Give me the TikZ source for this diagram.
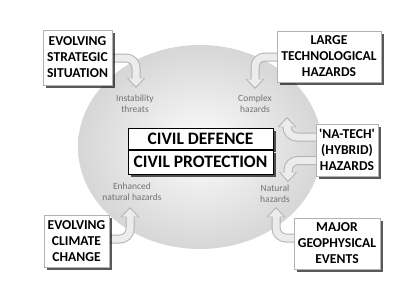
\documentclass[tikz,border=0pt]{standalone}
\usepackage{fontspec}
\setmainfont{Carlito}
\usetikzlibrary{positioning,shadows,arrows.meta,backgrounds}

\begin{document}
\begin{tikzpicture}[
    x=1pt, y=-1pt,
    % Boxes for the driving events
    eventbox/.style={draw=gray!60, fill=white, align=center, inner sep=1pt,
        font=\bfseries\fontsize{13.6}{16}\selectfont,
        drop shadow={shadow xshift=3pt, shadow yshift=-3pt, fill=black, opacity=.65}},
    % Central boxes
    corebox/.style={draw=black, line width=1pt, fill=white, minimum width=145pt,
        inner sep=1pt, font=\bfseries\fontsize{17.5}{20}\selectfont,
        drop shadow={shadow xshift=3pt, shadow yshift=-3pt, fill=black, opacity=.65}},
    % Small grey labels for the hazards
    hazard/.style={font=\fontsize{9.5}{11}\selectfont, text=black!55, align=center, inner sep=1pt},
    % Hollow bent arrows (outline, then fill)
    bendout/.style={line width=9pt, draw=gray!60, rounded corners=10pt,
        -{Triangle[length=10pt, width=18pt]}},
    bendin/.style={line width=7pt, draw=gray!15, rounded corners=10pt, shorten >=1.6pt,
        -{Triangle[length=8pt, width=15pt]}}
]

% Frame of the picture
\useasboundingbox (0,0) rectangle (400,300);

% Central boxes
\node[corebox, minimum height=21pt] (defence) at (200.5,138.5) {CIVIL DEFENCE};
\node[corebox, minimum height=24pt, below=0pt of defence] (protection) {CIVIL PROTECTION};

% Event boxes
\node[eventbox, minimum width=69pt, minimum height=55pt] (strategic) at (77.5,57.5) {EVOLVING\\STRATEGIC\\SITUATION};
\node[eventbox, minimum width=104pt, minimum height=51pt] (techno) at (329,56.5) {LARGE\\TECHNOLOGICAL\\HAZARDS};
\node[eventbox, minimum width=62pt, minimum height=52pt] (natech) at (347,150) {\textquotesingle NA-TECH\textquotesingle\\(HYBRID)\\HAZARDS};
\node[eventbox, minimum width=86pt, minimum height=51pt] (geo) at (337,243.5) {MAJOR\\GEOPHYSICAL\\EVENTS};
\node[eventbox, minimum width=65pt, minimum height=52pt] (climate) at (76.5,241) {EVOLVING\\CLIMATE\\CHANGE};

% Hazard labels
\node[hazard] (instab) at (135,104) {Instability\\threats};
\node[hazard] (complex) at (255,104) {Complex\\hazards};
\node[hazard] (enhanced) at (132,192) {Enhanced\\natural hazards};
\node[hazard] (natural) at (275,194) {Natural\\hazards};

% Arrow tips, just short of the labels
\coordinate (tipinst) at (136,88);
\coordinate (tipcomplexa) at (255,89);
\coordinate (tipcomplexb) at (287,117);
\coordinate (tipnatural) at (288,182);
\coordinate (tipnaturalb) at (276,207);
\coordinate (tipenh) at (130,207);

\begin{scope}[on background layer]
% Shaded ellipse behind everything
\shade[inner color=gray!2, outer color=gray!32] (200,147) ellipse [x radius=122pt, y radius=102pt];

% Bent arrows from the boxes to the labels
\foreach \from/\yy/\tip in {strategic/58/tipinst, techno/57/tipcomplexa, natech/137/tipcomplexb,
                            natech/160.5/tipnatural, geo/238/tipnaturalb, climate/239/tipenh} {
    \draw[bendout] (\from.center |- 0,\yy) -- (\tip |- 0,\yy) -- (\tip);
    \draw[bendin] (\from.center |- 0,\yy) -- (\tip |- 0,\yy) -- (\tip);
}
\end{scope}

\end{tikzpicture}
\end{document}
